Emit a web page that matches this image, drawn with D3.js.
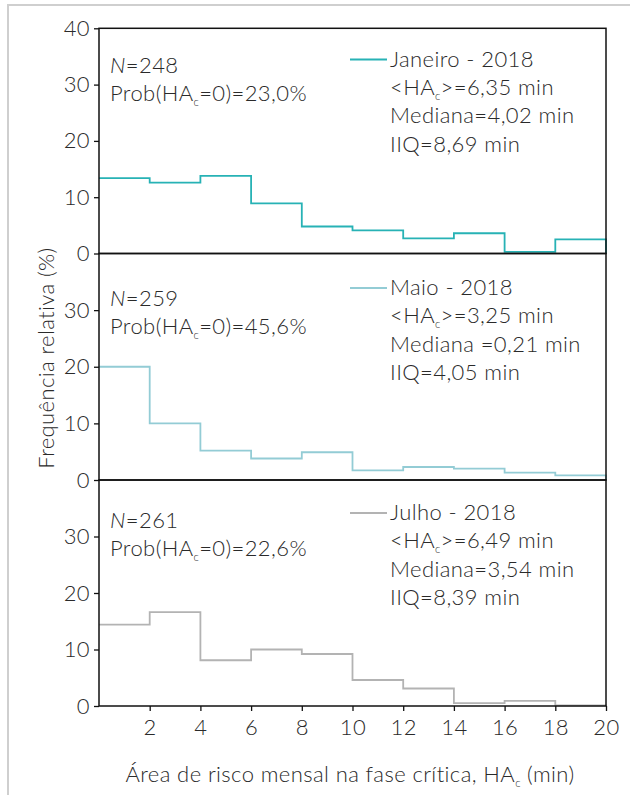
<!DOCTYPE html>
<html>
<head>
<meta charset="utf-8">
<script src="https://cdn.jsdelivr.net/npm/d3@7"></script>
<style>
  html, body { margin: 0; padding: 0; background: #fff; }
  svg text { font-family: Lato, "Open Sans", sans-serif; font-weight: 300; fill: #2a2a2a; letter-spacing: 0.4px; }
</style>
</head>
<body>
<svg id="chart" width="630" height="795"></svg>
<script>
// ---- data ----
const binEdges = [0, 2, 4, 6, 8, 10, 12, 14, 16, 18, 20];
const janeiro = [13.4, 12.6, 13.8, 8.9, 4.8, 4.1, 2.7, 3.6, 0.3, 2.5];
const maio    = [20.0, 10.0, 5.2, 3.8, 4.9, 1.7, 2.3, 2.0, 1.3, 0.8];
const julho   = [14.4, 16.6, 8.1, 10.0, 9.2, 4.6, 3.1, 0.5, 0.9, 0.1];
const months  = ["Janeiro - 2018", "Maio - 2018", "Julho - 2018"];
const nValues = ["248", "259", "261"];
const probZero = ["23,0%", "45,6%", "22,6%"];
const meanValues = ["6,35", "3,25", "6,49"];
const medianLabels = ["Mediana=4,02 min", "Mediana =0,21 min", "Mediana=3,54 min"];
const iqrValues = ["8,69", "4,05", "8,39"];
const xTicks = [2, 4, 6, 8, 10, 12, 14, 16, 18, 20];
const yTicksTop = [0, 10, 20, 30, 40];
const yTicksOther = [0, 10, 20, 30];
const series = [janeiro, maio, julho];
const colors = ["#27b2b5", "#93ccd5", "#b3b3b3"];

// ---- layout ----
const FS = 22, SUB = 11, SUBDY = 5;
const svg = d3.select("#chart");
const left = 99, right = 606;
const panels = [
  {top: 28.3, bottom: 253.5, nY: 72.5, legY: 66.5},
  {top: 253.5, bottom: 480, nY: 305.5, legY: 295},
  {top: 480, bottom: 706, nY: 528, legY: 520}
];
const x = d3.scaleLinear().domain([0, 20]).range([left, right]);

// outer frame (top and left rules)
svg.append("line").attr("x1", 7).attr("x2", 630).attr("y1", 5).attr("y2", 5)
  .attr("stroke", "#cfcfcf").attr("stroke-width", 2);
svg.append("line").attr("x1", 8).attr("x2", 8).attr("y1", 4).attr("y2", 795)
  .attr("stroke", "#cfcfcf").attr("stroke-width", 2);

panels.forEach((p, i) => {
  const y = d3.scaleLinear().domain([0, 40]).range([p.bottom, p.top]);
  const g = svg.append("g");

  // step histogram
  const pts = binEdges.slice(0, -1).map((e, k) => [e, series[i][k]]);
  pts.push([binEdges[binEdges.length - 1], series[i][series[i].length - 1]]);
  pts.push([binEdges[binEdges.length - 1], 0]);
  const line = d3.line().x(d => x(d[0])).y(d => y(d[1])).curve(d3.curveStepAfter);
  g.append("path").attr("d", line(pts)).attr("fill", "none")
    .attr("stroke", colors[i]).attr("stroke-width", 1.8);

  // frame
  g.append("rect").attr("x", left).attr("y", p.top)
    .attr("width", right - left).attr("height", p.bottom - p.top)
    .attr("fill", "none").attr("stroke", "#111").attr("stroke-width", 1.5);

  // y axis
  const yAxis = d3.axisLeft(y).tickValues(i === 0 ? yTicksTop : yTicksOther)
    .tickSize(5).tickPadding(4).tickFormat(d3.format("d"));
  const ya = g.append("g").attr("transform", `translate(${left},0)`).call(yAxis);
  ya.select(".domain").remove();
  ya.selectAll("line").attr("stroke", "#111").attr("stroke-width", 1.3);
  ya.selectAll("text").attr("font-size", FS).attr("fill", "#2a2a2a")
    .attr("font-family", "Lato, 'Open Sans', sans-serif");

  // x axis on bottom panel
  if (i === 2) {
    const xAxis = d3.axisBottom(x).tickValues(xTicks).tickSize(5).tickPadding(8)
      .tickFormat(d3.format("d"));
    const xa = g.append("g").attr("transform", `translate(0,${p.bottom})`).call(xAxis);
    xa.select(".domain").remove();
    xa.selectAll("line").attr("stroke", "#111").attr("stroke-width", 1.3);
    xa.selectAll("text").attr("font-size", FS).attr("fill", "#2a2a2a")
      .attr("font-family", "Lato, 'Open Sans', sans-serif");
  }

  // left annotations
  const tN = g.append("text").attr("x", 110).attr("y", p.nY).attr("font-size", FS);
  tN.append("tspan").attr("font-style", "italic").text("N");
  tN.append("tspan").text("=" + nValues[i]);
  const tP = g.append("text").attr("x", 110).attr("y", p.nY + 28).attr("font-size", FS);
  tP.append("tspan").text("Prob(HA");
  tP.append("tspan").attr("font-size", SUB).attr("dy", SUBDY).text("c");
  tP.append("tspan").attr("dy", -SUBDY).text("=0)=" + probZero[i]);

  // legend
  g.append("line").attr("x1", 350).attr("x2", 387)
    .attr("y1", p.legY - 7).attr("y2", p.legY - 7)
    .attr("stroke", colors[i]).attr("stroke-width", 1.8);
  g.append("text").attr("x", 390).attr("y", p.legY).attr("font-size", FS).text(months[i]);
  const tM = g.append("text").attr("x", 390).attr("y", p.legY + 28.3).attr("font-size", FS);
  tM.append("tspan").text("<HA");
  tM.append("tspan").attr("font-size", SUB).attr("dy", SUBDY).text("c");
  tM.append("tspan").attr("dy", -SUBDY).text(">=" + meanValues[i] + " min");
  g.append("text").attr("x", 390).attr("y", p.legY + 56.6).attr("font-size", FS).text(medianLabels[i]);
  g.append("text").attr("x", 390).attr("y", p.legY + 85).attr("font-size", FS).text("IIQ=" + iqrValues[i] + " min");
});

// axis titles
const xt = svg.append("text").attr("x", 350).attr("y", 782).attr("text-anchor", "middle").attr("font-size", FS);
xt.append("tspan").text("Área de risco mensal na fase crítica, HA");
xt.append("tspan").attr("font-size", SUB).attr("dy", SUBDY).text("c");
xt.append("tspan").attr("dy", -SUBDY).text(" (min)");

svg.append("text").attr("transform", "translate(54,358) rotate(-90)")
  .attr("text-anchor", "middle").attr("font-size", FS).text("Frequência relativa (%)");
</script>
</body>
</html>
